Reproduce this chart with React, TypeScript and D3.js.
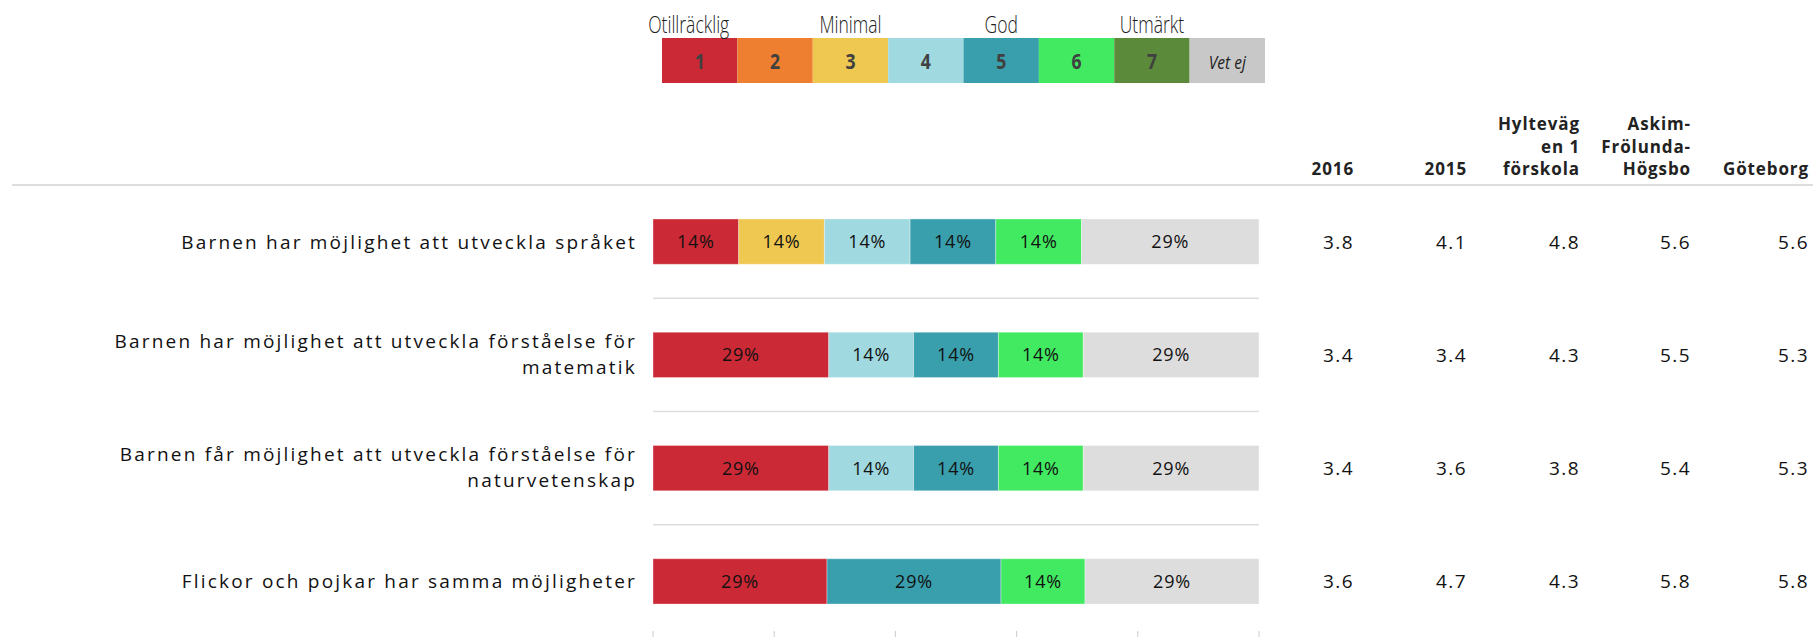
import React, { useEffect } from "react";
import * as d3 from "d3";

// ---------- data ----------
const categories = ["1", "2", "3", "4", "5", "6", "7", "Vet ej"];
const legendColors = ["#CC2936", "#EE7F31", "#EEC850", "#A0D9E0", "#3A9FAC", "#42EA62", "#5A8A3A", "#C8C8C8"];
const barColors = ["#CC2936", "#EE7F31", "#EEC850", "#A0D9E0", "#3A9FAC", "#42EA62", "#5A8A3A", "#DDDDDD"];
const legendLabels = ["Otillräcklig", "Minimal", "God", "Utmärkt"];

const rowLabels = [
  ["Barnen har möjlighet att utveckla språket"],
  ["Barnen har möjlighet att utveckla förståelse för", "matematik"],
  ["Barnen får möjlighet att utveckla förståelse för", "naturvetenskap"],
  ["Flickor och pojkar har samma möjligheter"],
];

// percentage per grade, one entry per row
const grade1 = [14, 29, 29, 29];
const grade2 = [0, 0, 0, 0];
const grade3 = [14, 0, 0, 0];
const grade4 = [14, 14, 14, 0];
const grade5 = [14, 14, 14, 29];
const grade6 = [14, 14, 14, 14];
const grade7 = [0, 0, 0, 0];
const vetEj = [29, 29, 29, 29];

const columnHeaders = [["2016"], ["2015"], ["Hylteväg", "en 1", "förskola"], ["Askim-", "Frölunda-", "Högsbo"], ["Göteborg"]];
const col2016 = [3.8, 3.4, 3.4, 3.6];
const col2015 = [4.1, 3.4, 3.6, 4.7];
const colHylte = [4.8, 4.3, 3.8, 4.3];
const colAskim = [5.6, 5.5, 5.4, 5.8];
const colGbg = [5.6, 5.3, 5.3, 5.8];

// ---------- layout ----------
const W = 1813;
const H = 637;
const FONT = "'Open Sans', 'Noto Sans', sans-serif";

export default function App() {
  useEffect(() => {
    document.body.style.margin = "0";
  }, []);

  const gradeArrays = [grade1, grade2, grade3, grade4, grade5, grade6, grade7, vetEj];
  const table = rowLabels.map((_, i) => {
    const o: Record<string, any> = { row: i };
    categories.forEach((c, k) => (o[c] = gradeArrays[k][i]));
    return o;
  });
  const stacked = d3.stack<any>().keys(categories).offset(d3.stackOffsetExpand)(table);

  const x = d3.scaleLinear().domain([0, 1]).range([653, 1259]);
  const y = d3
    .scaleBand<number>()
    .domain(rowLabels.map((_, i) => i))
    .range([185, 638])
    .paddingInner(0.6)
    .paddingOuter(0.3);
  const bw = y.bandwidth();

  const legendX = d3.scaleBand<string>().domain(categories).range([662, 1265]);
  const colorLegend = d3.scaleOrdinal<string, string>().domain(categories).range(legendColors);
  const colorBar = d3.scaleOrdinal<string, string>().domain(categories).range(barColors);

  const colRight = d3.scaleOrdinal<number, number>().domain([0, 1, 2, 3, 4]).range([1354, 1467, 1580, 1691, 1809]);
  const columns = [col2016, col2015, colHylte, colAskim, colGbg];
  const fmt = d3.format(".1f");

  const separators = rowLabels.slice(0, -1).map((_, i) => (y(i) as number) + bw / 2 + y.step() / 2);
  const ticks = x.ticks(5);

  return (
    <svg width={W} height={H} style={{ display: "block", background: "#fff" }} fontFamily={FONT}>
      {/* legend */}
      <g>
        {categories.map((c) => {
          const lx = legendX(c) as number;
          const cx = lx + legendX.bandwidth() / 2;
          const isVet = c === "Vet ej";
          return (
            <g key={c}>
              <rect x={lx} y={38} width={legendX.bandwidth()} height={45} fill={colorLegend(c)} />
              <text
                transform={`translate(${cx},${69}) scale(${isVet ? 0.82 : 0.8},1)`}
                textAnchor="middle"
                fontSize={isVet ? 19 : 22}
                fontWeight={isVet ? 400 : 700}
                fontStyle={isVet ? "italic" : "normal"}
                fill={isVet ? "#222" : "#404040"}
              >
                {c}
              </text>
            </g>
          );
        })}
        {legendLabels.map((l, i) => {
          const c = categories[i * 2];
          let cx = (legendX(c) as number) + legendX.bandwidth() / 2;
          if (i === 0) cx -= 11;
          return (
            <text
              key={l}
              transform={`translate(${cx},${33}) scale(0.73,1)`}
              textAnchor="middle"
              fontSize={24}
              fontWeight={300}
              fill="#222"
            >
              {l}
            </text>
          );
        })}
      </g>

      {/* column headers */}
      {columnHeaders.map((lines, j) => (
        <g key={j}>
          {lines.map((ln, k) => (
            <text
              key={k}
              x={colRight(j)}
              y={175 - (lines.length - 1 - k) * 22.5}
              textAnchor="end"
              fontSize={17}
              fontWeight={700}
              letterSpacing={0.9}
              fill="#222"
            >
              {ln}
            </text>
          ))}
        </g>
      ))}

      {/* header rule */}
      <line x1={12} x2={W} y1={185} y2={185} stroke="#DDDDDD" strokeWidth={2} />

      {/* row separators */}
      {separators.map((sy, i) => (
        <line key={i} x1={x(0)} x2={x(1)} y1={sy} y2={sy} stroke="#DDDDDD" strokeWidth={1.5} />
      ))}

      {/* bars */}
      {stacked.map((series) => (
        <g key={series.key} fill={colorBar(series.key)}>
          {series.map((d, i) => {
            const v = (d.data as any)[series.key];
            if (!v) return null;
            const x0 = x(d[0]);
            const x1 = x(d[1]);
            const yy = y(i) as number;
            return (
              <g key={i}>
                <rect x={x0} y={yy} width={x1 - x0} height={bw} stroke="rgba(255,255,255,0.35)" strokeWidth={1} />
                <text
                  x={(x0 + x1) / 2}
                  y={yy + bw / 2 + 6.5}
                  textAnchor="middle"
                  fontSize={18}
                  letterSpacing={0.8}
                  fill="#111"
                >
                  {v}%
                </text>
              </g>
            );
          })}
        </g>
      ))}

      {/* row labels */}
      {rowLabels.map((lines, i) => {
        const cy = (y(i) as number) + bw / 2;
        return (
          <g key={i}>
            {lines.map((ln, k) => (
              <text
                key={k}
                x={637}
                y={lines.length === 1 ? cy + 7 : cy - 7 + k * 26}
                textAnchor="end"
                fontSize={19}
                letterSpacing={2.2}
                fill="#111"
              >
                {ln}
              </text>
            ))}
          </g>
        );
      })}

      {/* table values */}
      {columns.map((col, j) =>
        col.map((v, i) => (
          <text
            key={`${j}-${i}`}
            x={colRight(j)}
            y={(y(i) as number) + bw / 2 + 7}
            textAnchor="end"
            fontSize={19}
            letterSpacing={1.4}
            fill="#111"
          >
            {fmt(v)}
          </text>
        ))
      )}

      {/* bottom ticks */}
      {ticks.map((t) => (
        <line key={t} x1={x(t)} x2={x(t)} y1={631} y2={637} stroke="#CCCCCC" strokeWidth={1} />
      ))}
    </svg>
  );
}
